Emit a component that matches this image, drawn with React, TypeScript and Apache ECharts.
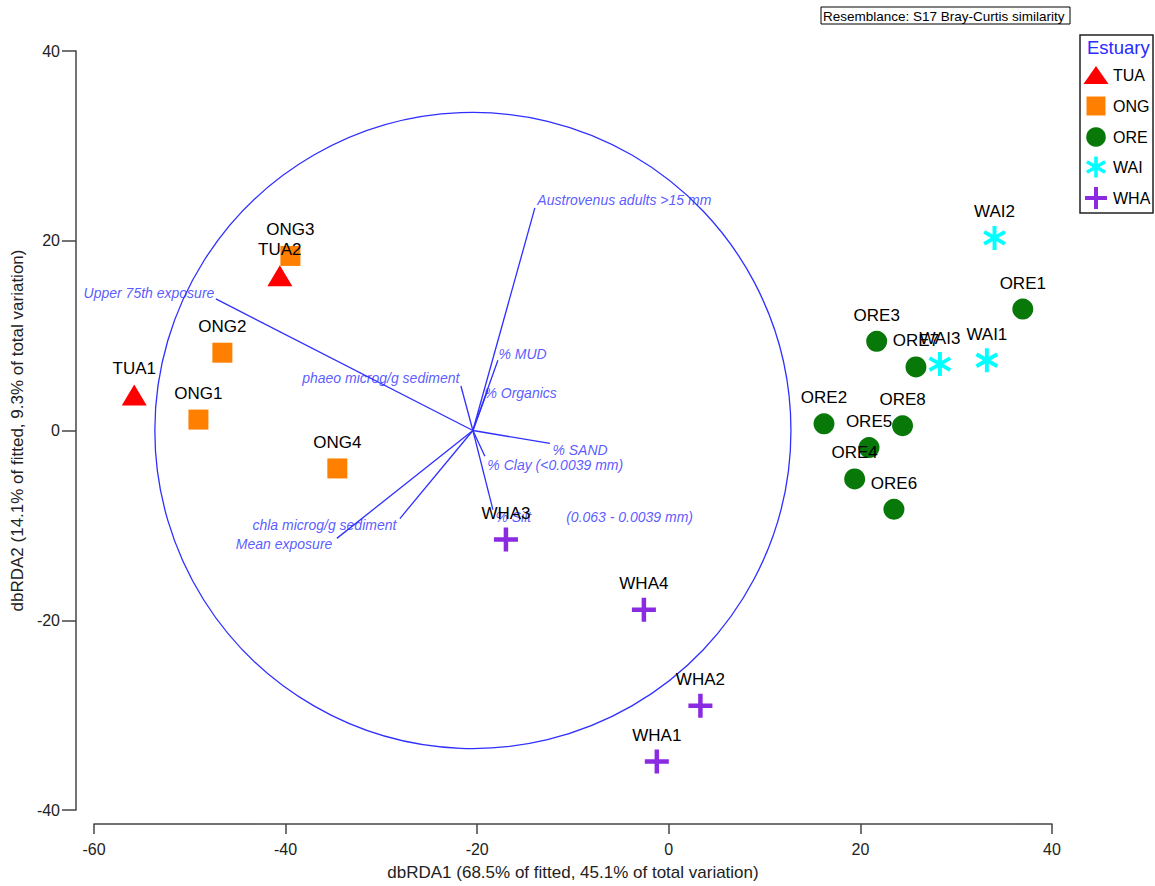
import React, { useEffect, useRef } from "react";
import * as echarts from "echarts";

// ---------- data ----------
const ESTUARIES = ["TUA", "ONG", "ORE", "WAI", "WHA"];

const SITE_NAMES = [
  "TUA1", "TUA2",
  "ONG1", "ONG2", "ONG3", "ONG4",
  "ORE1", "ORE2", "ORE3", "ORE4", "ORE5", "ORE6", "ORE7", "ORE8",
  "WAI1", "WAI2", "WAI3",
  "WHA1", "WHA2", "WHA3", "WHA4",
];
const SITE_X = [
  -55.8, -40.6,
  -49.1, -46.6, -39.5, -34.6,
  36.95, 16.2, 21.7, 19.4, 20.9, 23.5, 25.8, 24.4,
  33.2, 34.0, 28.3,
  -1.25, 3.3, -17.0, -2.6,
];
const SITE_Y = [
  3.75, 16.3,
  1.15, 8.2, 18.4, -4.0,
  12.8, 0.7, 9.4, -5.1, -1.8, -8.3, 6.7, 0.5,
  7.4, 20.3, 7.0,
  -34.9, -29.0, -11.5, -18.9,
];

// dbRDA vectors (origin and circle radius in axis units)
const VECTOR_ORIGIN = [-20.45, 0];
const CIRCLE_RADIUS = 33.2;
const VECTOR_NAMES = [
  "Austrovenus adults >15 mm",
  "Upper 75th exposure",
  "% MUD",
  "% Organics",
  "phaeo microg/g sediment",
  "% SAND",
  "% Clay (<0.0039 mm)",
  "% Silt (0.063 - 0.0039 mm)",
  "chla microg/g sediment",
  "Mean exposure",
];
const VECTOR_DX = [6.47, -26.83, 2.61, 1.57, -1.25, 8.04, 1.25, 2.09, -7.62, -14.2];
const VECTOR_DY = [23.46, 13.87, 7.4, 4.28, 4.69, -1.36, -2.71, -8.34, -9.28, -11.37];

const X_TICKS = [-60, -40, -20, 0, 20, 40];
const Y_TICKS = [-40, -20, 0, 20, 40];

const X_TITLE = "dbRDA1 (68.5% of fitted, 45.1% of total variation)";
const Y_TITLE = "dbRDA2 (14.1% of fitted, 9.3% of total variation)";
const RESEMBLANCE = "Resemblance: S17 Bray-Curtis similarity";
const LEGEND_TITLE = "Estuary";

// ---------- styles ----------
const FONT = "'Liberation Sans', Arial, Helvetica, sans-serif";
const VEC_COLOR = "#2f2fff";
const ASTERISK =
  "path://M10.2 1H13.8V23H10.2Z M3.374 4.941L22.426 15.941L20.626 19.059L1.574 8.059Z M1.574 15.941L20.626 4.941L22.426 8.059L3.374 19.059Z";
const CROSS = "path://M9.75 0H14.25V9.75H24V14.25H14.25V24H9.75V14.25H0V9.75H9.75Z";

const MARKERS: Record<string, any> = {
  TUA: { symbol: "triangle", size: [25, 21], color: "#ff0000" },
  ONG: { symbol: "rect", size: 20, color: "#ff8000" },
  ORE: { symbol: "circle", size: 21, color: "#087808" },
  WAI: { symbol: ASTERISK, size: 24, color: "#00ffff" },
  WHA: { symbol: CROSS, size: 24, color: "#8a2be2" },
};

// label placement for vector labels: [align, offsetX, offsetY] in px
const VECTOR_LABEL_PLACE: [string, number, number][] = [
  ["left", 3, -7],
  ["right", -1, -5],
  ["left", 1, -6],
  ["left", -3, 4],
  ["right", -1, -8],
  ["left", 3, 7],
  ["left", 3, 9],
  ["left", 3, 8],
  ["right", -3, 7],
  ["right", -4, 6],
];

function buildLegend() {
  const children: any[] = [];
  children.push({
    type: "rect",
    shape: { x: 1080, y: 35, width: 73, height: 178 },
    style: { fill: "#fff", stroke: "#222", lineWidth: 1.5 },
  });
  children.push({
    type: "text",
    x: 1087,
    y: 47,
    style: { text: LEGEND_TITLE, fontSize: 18.5, fill: "#2a2aff", fontFamily: FONT, verticalAlign: "middle" },
  });
  const ys = [75, 106, 137, 167, 198];
  ESTUARIES.forEach((e, i) => {
    const cx = 1096;
    const cy = ys[i];
    const color = MARKERS[e].color;
    if (e === "TUA") {
      children.push({ type: "polygon", shape: { points: [[cx, cy - 9], [cx + 12.5, cy + 9], [cx - 12.5, cy + 9]] }, style: { fill: color } });
    } else if (e === "ONG") {
      children.push({ type: "rect", shape: { x: cx - 9.5, y: cy - 9.5, width: 19, height: 19 }, style: { fill: color } });
    } else if (e === "ORE") {
      children.push({ type: "circle", shape: { cx, cy, r: 9.8 }, style: { fill: color } });
    } else if (e === "WAI") {
      [0, Math.PI / 3, -Math.PI / 3].forEach((rot) => {
        children.push({ type: "rect", x: cx, y: cy, rotation: rot, shape: { x: -1.8, y: -10.5, width: 3.6, height: 21 }, style: { fill: color } });
      });
    } else {
      children.push({ type: "rect", shape: { x: cx - 2, y: cy - 11, width: 4, height: 22 }, style: { fill: color } });
      children.push({ type: "rect", shape: { x: cx - 11, y: cy - 2, width: 22, height: 4 }, style: { fill: color } });
    }
    children.push({
      type: "text",
      x: 1113,
      y: cy,
      style: { text: e, fontSize: 16, fill: "#000", fontFamily: FONT, verticalAlign: "middle" },
    });
  });
  return children;
}

export default function App() {
  const ref = useRef<HTMLDivElement>(null);

  useEffect(() => {
    if (!ref.current) return;
    const chart = echarts.init(ref.current, undefined, { renderer: "svg" });

    const siteSeries = ESTUARIES.map((e) => {
      const m = MARKERS[e];
      const data = SITE_NAMES.map((n, i) => ({ n, i }))
        .filter((d) => d.n.startsWith(e))
        .map((d) => ({ name: d.n, value: [SITE_X[d.i], SITE_Y[d.i]] }));
      return {
        type: "scatter",
        name: e,
        data,
        symbol: m.symbol,
        symbolSize: m.size,
        symbolKeepAspect: true,
        itemStyle: { color: m.color, opacity: 1 },
        label: {
          show: true,
          formatter: "{b}",
          position: "inside",
          offset: [0, -26],
          color: "#000",
          fontSize: 17,
          fontFamily: FONT,
          textBorderWidth: 0,
        },
        z: 5,
      };
    });

    const vectorData = VECTOR_NAMES.map((n, i) => ({
      name: n,
      value: [VECTOR_ORIGIN[0], VECTOR_ORIGIN[1], VECTOR_ORIGIN[0] + VECTOR_DX[i], VECTOR_ORIGIN[1] + VECTOR_DY[i]],
    }));

    const vectorLabelData = VECTOR_NAMES.map((n, i) => {
      const [align, ox, oy] = VECTOR_LABEL_PLACE[i];
      return {
        name: n,
        value: [VECTOR_ORIGIN[0] + VECTOR_DX[i], VECTOR_ORIGIN[1] + VECTOR_DY[i]],
        label: { align, position: [ox, oy], verticalAlign: "middle" },
      };
    });

    const option: any = {
      animation: false,
      grid: { left: 94, right: 103, top: 51, bottom: 68, containLabel: false },
      xAxis: {
        type: "value",
        min: X_TICKS[0],
        max: X_TICKS[X_TICKS.length - 1],
        interval: 20,
        offset: 14,
        axisLine: { show: true, onZero: false, lineStyle: { color: "#444", width: 1.5 } },
        axisTick: { show: true, length: 10, lineStyle: { color: "#444", width: 1.5 } },
        axisLabel: { fontSize: 16, color: "#222", margin: 17, fontFamily: FONT },
        splitLine: { show: false },
        name: X_TITLE,
        nameLocation: "middle",
        nameGap: 40,
        nameTextStyle: { fontSize: 17, color: "#222", fontFamily: FONT },
      },
      yAxis: {
        type: "value",
        min: Y_TICKS[0],
        max: Y_TICKS[Y_TICKS.length - 1],
        interval: 20,
        offset: 18,
        axisLine: { show: true, onZero: false, lineStyle: { color: "#444", width: 1.5 } },
        axisTick: { show: true, length: 14, lineStyle: { color: "#444", width: 1.5 } },
        axisLabel: { fontSize: 16, color: "#222", margin: 16, fontFamily: FONT },
        splitLine: { show: false },
        name: Y_TITLE,
        nameLocation: "middle",
        nameGap: 45,
        nameTextStyle: { fontSize: 17, color: "#222", fontFamily: FONT },
      },
      series: [
        {
          type: "custom",
          name: "circle",
          data: [[VECTOR_ORIGIN[0], VECTOR_ORIGIN[1], CIRCLE_RADIUS]],
          encode: { x: 0, y: 1 },
          silent: true,
          z: 1,
          renderItem: (params: any, api: any) => {
            const c = api.coord([api.value(0), api.value(1)]);
            const r = api.size([api.value(2), 0])[0];
            return {
              type: "circle",
              shape: { cx: c[0], cy: c[1], r },
              style: { fill: "none", stroke: VEC_COLOR, lineWidth: 1.3 },
            };
          },
        },
        {
          type: "custom",
          name: "vectors",
          data: vectorData,
          encode: { x: [0, 2], y: [1, 3] },
          silent: true,
          z: 2,
          renderItem: (params: any, api: any) => {
            const a = api.coord([api.value(0), api.value(1)]);
            const b = api.coord([api.value(2), api.value(3)]);
            return {
              type: "line",
              shape: { x1: a[0], y1: a[1], x2: b[0], y2: b[1] },
              style: { stroke: VEC_COLOR, lineWidth: 1.3 },
            };
          },
        },
        {
          type: "scatter",
          name: "vectorLabels",
          data: vectorLabelData,
          symbolSize: 1,
          itemStyle: { color: "rgba(0,0,0,0)" },
          silent: true,
          z: 3,
          label: {
            show: true,
            color: VEC_COLOR,
            fontSize: 14,
            fontStyle: "italic",
            fontFamily: FONT,
            textBorderWidth: 0,
            formatter: (p: any) => {
              const n: string = p.name;
              if (n.startsWith("% Silt")) {
                const rest = n.slice("% Silt ".length);
                return "{a|% Silt}{g| }{a|" + rest + "}";
              }
              return n;
            },
            rich: {
              a: { color: VEC_COLOR, fontSize: 14, fontStyle: "italic", fontFamily: FONT },
              g: { width: 35, fontSize: 14 },
            },
          },
        },
        ...siteSeries,
      ],
      graphic: [
        {
          type: "group",
          children: [
            {
              type: "rect",
              shape: { x: 821, y: 7, width: 249, height: 17 },
              style: { fill: "#fff", stroke: "#000", lineWidth: 1 },
            },
            {
              type: "text",
              x: 823,
              y: 16,
              style: { text: RESEMBLANCE, fontSize: 13.5, fill: "#000", fontFamily: FONT, verticalAlign: "middle" },
            },
          ],
        },
        { type: "group", children: buildLegend() },
      ],
    };

    chart.setOption(option);
    return () => chart.dispose();
  }, []);

  return (
    <div
      ref={ref}
      style={{ position: "fixed", left: 0, top: 0, width: 1155, height: 886, background: "#fff" }}
    />
  );
}
